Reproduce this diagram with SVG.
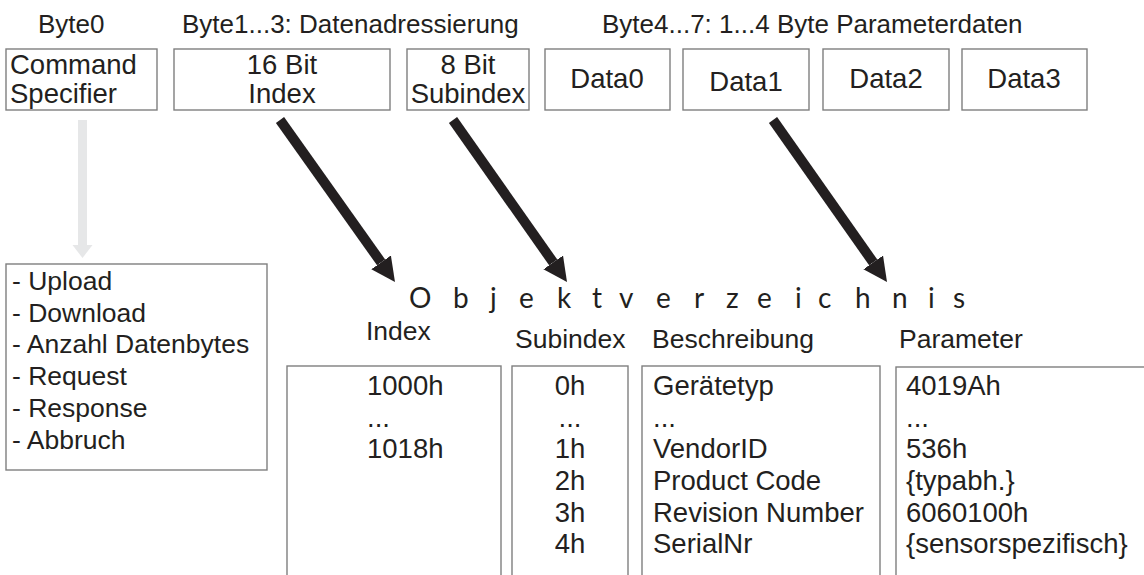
<svg xmlns="http://www.w3.org/2000/svg" width="1144" height="575" viewBox="0 0 1144 575">
<style>
text{font-family:"Liberation Sans",Arial,sans-serif;fill:#231f20}
.lbl{font-size:26px}
.bt{font-size:27.5px}
.ls{font-size:26.5px}
.hd{font-size:26.5px}
.ct{font-size:27.5px}
.box{fill:#fff;stroke:#7f7f7f;stroke-width:1.4}
.ov{font-family:Lato,"Open Sans",sans-serif;font-size:28px}
.blk{stroke:#231f20;stroke-width:10;fill:none}
.gry{stroke:#e6e7e8;stroke-width:9;fill:none}
.mid{text-anchor:middle}
</style>
<defs>
<marker id="ah" markerUnits="userSpaceOnUse" markerWidth="26" markerHeight="26" refX="0" refY="12" orient="auto">
<path d="M0,0 L24,12 L0,24 z" fill="#231f20"/>
</marker>
<marker id="gh" markerUnits="userSpaceOnUse" markerWidth="22" markerHeight="22" refX="0" refY="10" orient="auto">
<path d="M0,0 L13,10 L0,20 z" fill="#e6e7e8"/>
</marker>
</defs>
<g id="labels">
<text class="lbl" x="38" y="33">Byte0</text>
<text class="lbl" x="182" y="33">Byte1...3: Datenadressierung</text>
<text class="lbl" x="602" y="33">Byte4...7: 1...4 Byte Parameterdaten</text>
</g>
<g id="node-cs"><rect class="box" x="6" y="49" width="151" height="61"/><text class="bt" x="10" y="74">Command</text><text class="bt" x="10" y="103">Specifier</text></g>
<g id="node-index"><rect class="box" x="174" y="49" width="216" height="61"/><text class="bt mid" x="282" y="74">16 Bit</text><text class="bt mid" x="282" y="103">Index</text></g>
<g id="node-subindex"><rect class="box" x="407" y="49" width="122" height="61"/><text class="bt mid" x="468" y="74">8 Bit</text><text class="bt mid" x="468" y="103">Subindex</text></g>
<g id="node-data0"><rect class="box" x="545" y="49" width="125" height="61"/><text class="bt mid" x="607" y="88">Data0</text></g>
<g id="node-data1"><rect class="box" x="683" y="49" width="126" height="61"/><text class="bt mid" x="746" y="91">Data1</text></g>
<g id="node-data2"><rect class="box" x="823" y="49" width="126" height="61"/><text class="bt mid" x="886" y="88">Data2</text></g>
<g id="node-data3"><rect class="box" x="962" y="49" width="125" height="61"/><text class="bt mid" x="1024" y="88">Data3</text></g>
<g id="node-list"><rect class="box" x="6" y="264" width="261" height="206"/>
<text class="ls" x="12" y="290">- Upload</text>
<text class="ls" x="12" y="322">- Download</text>
<text class="ls" x="12" y="353">- Anzahl Datenbytes</text>
<text class="ls" x="12" y="385">- Request</text>
<text class="ls" x="12" y="417">- Response</text>
<text class="ls" x="12" y="449">- Abbruch</text>
</g>
<g id="node-objektverzeichnis">
<text class="ov" x="409 453 490 519 557 592 619 656 694 726 757 795 818 855 892 928 953" y="308">Objektverzeichnis</text>
<text class="hd" x="366" y="340">Index</text>
<text class="hd" x="515" y="348">Subindex</text>
<text class="hd" x="652" y="348">Beschreibung</text>
<text class="hd" x="899" y="348">Parameter</text>
</g>
<g id="node-col-index"><rect class="box" x="287" y="366" width="214" height="230"/>
<text class="ct" x="367" y="395">1000h</text><text class="ct" x="367" y="427">...</text><text class="ct" x="367" y="458">1018h</text></g>
<g id="node-col-subindex"><rect class="box" x="512" y="366" width="116" height="230"/>
<text class="ct mid" x="570" y="395">0h</text><text class="ct mid" x="570" y="427">...</text><text class="ct mid" x="570" y="458">1h</text><text class="ct mid" x="570" y="490">2h</text><text class="ct mid" x="570" y="522">3h</text><text class="ct mid" x="570" y="553">4h</text></g>
<g id="node-col-beschreibung"><rect class="box" x="642" y="366" width="238" height="230"/>
<text class="ct" x="653" y="395">Gerätetyp</text><text class="ct" x="653" y="427">...</text><text class="ct" x="653" y="458">VendorID</text><text class="ct" x="653" y="490">Product Code</text><text class="ct" x="653" y="522">Revision Number</text><text class="ct" x="653" y="553">SerialNr</text></g>
<g id="node-col-parameter"><rect class="box" x="896" y="367" width="260" height="230"/>
<text class="ct" x="906" y="395">4019Ah</text><text class="ct" x="906" y="427">...</text><text class="ct" x="906" y="458">536h</text><text class="ct" x="906" y="490">{typabh.}</text><text class="ct" x="906" y="522">6060100h</text><text class="ct" x="906" y="553">{sensorspezifisch}</text></g>
<g id="connectors">
<line class="gry" x1="82.5" y1="120" x2="82.5" y2="245" marker-end="url(#gh)"/>
<line class="blk" x1="280" y1="120" x2="381.1" y2="262.4" marker-end="url(#ah)"/>
<line class="blk" x1="453" y1="120" x2="553.2" y2="262.4" marker-end="url(#ah)"/>
<line class="blk" x1="773" y1="120" x2="873.2" y2="262.4" marker-end="url(#ah)"/>
</g>
</svg>
